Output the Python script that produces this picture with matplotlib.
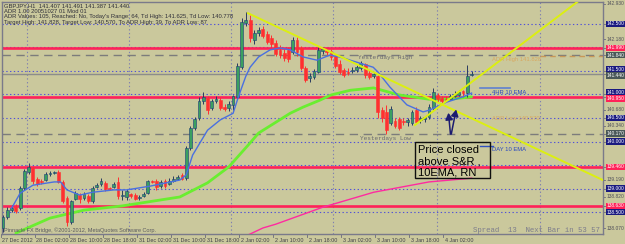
import matplotlib
matplotlib.use('Agg')
import matplotlib.pyplot as plt
from matplotlib.patches import Rectangle
import matplotlib.transforms as mtransforms

# ---------------- data ----------------
opens = [138.16,138.39,138.54,138.60,138.58,139.01,139.35,139.43,139.20,139.16,
         139.18,139.31,139.33,139.35,139.14,138.80,138.29,138.78,138.86,138.80,
         138.84,138.73,139.03,139.09,139.12,139.01,139.03,139.14,138.84,138.82,
         138.88,138.86,138.80,138.84,138.90,139.16,139.16,139.05,139.16,139.09,
         139.16,139.20,139.29,139.22,139.86,140.29,140.50,140.86,140.92,140.71,
         140.86,140.88,140.73,140.71,140.78,140.95,141.58,142.52,142.58,142.16,
         142.31,142.39,142.29,142.20,142.10,141.95,141.88,141.95,141.90,142.16,
         141.99,141.56,141.35,141.37,141.48,141.92,141.95,141.92,141.82,141.65,
         141.52,141.48,141.50,141.52,141.56,141.65,141.46,141.39,141.39,140.67,
         140.63,140.39,140.44,140.48,140.44,140.41,140.39,140.67,140.46,140.48,
         140.52,140.71,140.99,140.92,140.90,140.90,140.97,140.99,141.07,141.03,
         141.407]
highs = [138.44,138.60,138.65,138.67,139.05,139.41,139.54,139.48,139.24,139.20,
         139.35,139.37,139.37,139.39,139.18,138.84,138.75,138.95,138.90,138.92,
         138.88,139.05,139.12,139.22,139.16,139.03,139.14,139.24,138.97,138.99,
         138.90,138.90,138.86,138.92,139.18,139.18,139.20,139.18,139.20,139.22,
         139.26,139.29,139.33,139.90,140.33,140.52,140.95,141.05,140.97,140.90,
         140.97,140.95,140.80,140.86,140.98,141.67,142.63,142.75,142.69,142.37,
         142.44,142.46,142.35,142.26,142.16,142.05,141.97,142.01,142.22,142.22,
         142.03,141.61,141.46,141.54,142.01,142.01,141.99,141.97,141.84,141.73,
         141.56,141.56,141.58,141.63,141.71,141.67,141.52,141.48,141.41,140.73,
         140.78,140.75,140.50,140.52,140.50,140.50,140.67,140.73,140.54,140.54,
         140.80,141.14,141.03,140.97,140.97,141.00,141.07,141.10,141.10,141.63,
         141.491]
lows = [138.07,138.35,138.50,138.48,138.54,138.97,139.31,139.09,139.05,139.09,
        139.16,139.26,139.31,139.12,138.69,138.20,138.24,138.75,138.69,138.75,
        138.69,138.69,139.01,139.05,138.95,138.97,139.01,138.77,138.75,138.75,
        138.80,138.75,138.75,138.82,138.88,139.12,138.97,139.01,139.01,139.07,
        139.14,139.18,139.18,139.18,139.82,140.24,140.46,140.80,140.58,140.67,
        140.82,140.67,140.65,140.65,140.67,140.90,141.54,142.46,142.12,142.07,
        142.24,142.20,142.07,142.01,141.82,141.78,141.71,141.69,141.86,141.82,
        141.52,141.27,141.27,141.33,141.46,141.86,141.84,141.73,141.56,141.44,
        141.37,141.41,141.46,141.48,141.52,141.35,141.33,141.35,140.50,140.41,
        140.16,140.35,140.29,140.24,140.35,140.33,140.35,140.37,140.39,140.41,
        140.48,140.67,140.84,140.82,140.86,140.88,140.95,140.97,140.95,140.95,
        141.387]
closes = [138.39,138.54,138.58,138.52,139.01,139.37,139.46,139.16,139.09,139.14,
          139.31,139.33,139.35,139.14,138.73,138.29,138.73,138.90,138.78,138.88,
          138.73,139.01,139.07,139.16,138.99,138.99,139.09,138.84,138.86,138.95,
          138.84,138.78,138.82,138.88,139.16,139.14,139.03,139.14,139.05,139.16,
          139.20,139.24,139.20,139.86,140.29,140.48,140.86,140.95,140.67,140.86,
          140.90,140.71,140.70,140.80,140.97,141.60,142.54,142.58,142.20,142.31,
          142.37,142.24,142.12,142.07,141.86,141.84,141.78,141.75,142.16,141.90,
          141.56,141.31,141.39,141.50,141.95,141.97,141.90,141.80,141.61,141.48,
          141.41,141.46,141.52,141.58,141.67,141.41,141.37,141.44,140.63,140.50,
          140.24,140.69,140.33,140.29,140.41,140.46,140.63,140.41,140.50,140.52,
          140.73,141.05,140.90,140.86,140.88,140.97,141.01,141.05,141.03,141.40,
          141.440]

# H1 10 EMA (blue)
ema_blue_x = [2,4,7,12,13.5,15,18,21,26,29,34.5,41.5,43,44.5,48,51,54,55,56,57,58,60,
              62.7,65,67.4,70.4,73.7,76.8,79.8,81.5,86.9,88,90.8,94.8,98.6,100.2,104.2,108,110]
ema_blue_y = [138.58,138.90,139.07,139.14,139.14,138.97,138.86,138.92,138.97,138.97,139.05,
              139.18,139.29,139.71,140.24,140.46,140.60,140.88,141.14,141.39,141.58,141.80,
              141.95,141.99,141.95,141.80,141.73,141.84,141.78,141.73,141.58,141.48,141.16,
              140.78,140.63,140.67,140.84,140.95,141.03]
# 4HR 10 EMA (green)
ema_green_x = [3,11,19,28,41.5,48,53,58,60,67.4,70.4,74.4,77,81.5,87,93,100,105,110]
ema_green_y = [138.05,138.37,138.54,138.63,138.82,139.12,139.46,139.97,140.18,140.60,
               140.73,140.88,140.99,141.09,141.14,140.99,140.90,140.90,140.95]
# DAY 10 EMA (magenta)
ema_day_x = [57.5,61,64,75,87,100,110]
ema_day_y = [138.01,138.16,138.24,138.60,138.92,139.14,139.22]

# trend lines
trend1_x = [57.5, 140.8]
trend1_y = [142.73, 139.18]
trend2_x = [96.7, 135.4]
trend2_y = [140.35, 143.01]

sr_levels = [141.99, 140.95, 139.46, 138.63]
sr_labels = ['141.990', '140.950', '139.460', '138.630']
round_levels = [142.5, 142.0, 141.5, 141.0, 140.5, 140.0, 139.5, 139.0, 138.5]
round_labels = ['142.500', '141.500', '141.000', '140.500', '140.000', '139.000', '138.500']
round_label_levels = [142.5, 141.5, 141.0, 140.5, 140.0, 139.0, 138.5]
scale_levels = [142.93, 142.18, 140.68, 140.34, 139.19, 138.82, 138.15]
scale_labels = ['142.930', '142.180', '140.680', '140.340', '139.190', '138.820', '138.070']
yest_high = 141.84
yest_low = 140.17
cur_price = 141.44
adr_high = 141.828
day_grid = [5.6, 29.5, 53.4, 77.5, 101.8, 126.0]

tick_pos = [0, 8, 16, 24, 32, 40, 48, 56, 64, 72, 80, 88, 96, 104]
tick_labels = ['27 Dec 2012', '28 Dec 02:00', '28 Dec 10:00', '28 Dec 18:00', '31 Dec 02:00',
               '31 Dec 10:00', '31 Dec 18:00', '2 Jan 02:00', '2 Jan 10:00', '2 Jan 18:00',
               '3 Jan 02:00', '3 Jan 10:00', '3 Jan 18:00', '4 Jan 02:00']

info_lines = ['GBPJPY,H1  141.407 141.491 141.387 141.440',
              'ADR 1.00 20051027 01 Mod 01',
              "ADR Values: 105, Reached: No, Today's Range: 64, Td High: 141.625, Td Low: 140.778",
              'Target High: 141.828, Target Low: 140.570, To ADR High: 39, To ADR Low: 87']

# ---------------- figure ----------------
W, H = 625, 244
bg = '#cac89c'
fig = plt.figure(figsize=(W/100, H/100), dpi=100)
fig.patch.set_facecolor(bg)
ax = fig.add_axes([2/W, 1-234/H, 601/W, 232/H])
ax.set_facecolor(bg)
ax.set_xlim(-0.25, 140.85)
ax.set_ylim(138.032, 142.968)
ax.set_xticks([]); ax.set_yticks([])
for s in ax.spines.values():
    s.set_color('#7a7a8a'); s.set_linewidth(1.0)

# grid
for lv in round_levels:
    ax.axhline(lv, color='#5050d8', lw=0.8, ls=(0, (1.2, 2.2)), zorder=1)
for gx in day_grid:
    ax.axvline(gx, color='#8080b0', lw=0.8, ls=(0, (1.2, 2.2)), zorder=1)

# horizontal levels
ax.axhline(yest_high, color='#7c7c7c', lw=1.0, ls=(0, (6, 4)), zorder=2)
ax.axhline(yest_low, color='#7c7c7c', lw=1.0, ls=(0, (6, 4)), zorder=2)
ax.axhline(cur_price, color='#8c8c8c', lw=1.0, zorder=2)
ax.plot([126, 140.85], [adr_high, adr_high], color='#c89858', lw=1.0, ls=(0, (4, 3)), zorder=2)
for lv in sr_levels:
    ax.axhline(lv, color='#ff2258', lw=1.9, zorder=2)

# moving averages
ax.plot(ema_green_x, ema_green_y, color='#6aee30', lw=2.0, zorder=3, solid_capstyle='round')
ax.plot(ema_day_x, ema_day_y, color='#ff2aa0', lw=1.0, zorder=3)

# candles
bw = 0.66
for i, (o, h, l, c) in enumerate(zip(opens, highs, lows, closes)):
    up = c >= o
    if up:
        fc, ec, wc = '#3aa060', '#1e3c78', '#2a3a60'
    else:
        fc, ec, wc = '#ff3030', '#ff3030', '#ff3030'
    ax.plot([i, i], [l, h], color=wc, lw=0.7, zorder=4, solid_capstyle='butt')
    ax.add_patch(Rectangle((i - bw/2, min(o, c)), bw, max(abs(c - o), 0.012),
                           fc=fc, ec=ec, lw=0.4, zorder=5))

ax.plot(ema_blue_x, ema_blue_y, color='#4a70e0', lw=1.0, zorder=6)

# trend lines
ax.plot(trend1_x, trend1_y, color='#dcef10', lw=1.4, zorder=6)
ax.plot(trend2_x, trend2_y, color='#dcef10', lw=1.4, zorder=6)

# text objects
mono = 'Liberation Mono'
sans = 'Liberation Sans'
ax.text(83.3, 141.78, 'Yesterdays High', fontsize=4.4, family=mono, color='#6a6a70', va='center', ha='left', zorder=7)
ax.text(83.8, 140.07, 'Yesterdays Low', fontsize=4.4, family=mono, color='#6a6a70', va='center', ha='left', zorder=7)
ax.text(114.8, 141.755, 'ADR High 141.828', fontsize=4.2, family=sans, color='#d8a860', va='center', ha='left', zorder=7)
ax.text(114.8, 140.48, 'ADR Low 140.570', fontsize=4.2, family=sans, color='#d8a860', va='center', ha='left', zorder=7)
ax.plot([112, 119], [141.13, 141.13], color='#6080d0', lw=1.2, zorder=7)
ax.text(114.8, 141.04, '4HR 10 EMA', fontsize=4.2, family=sans, color='#2848c0', va='center', ha='left', zorder=7)
ax.plot([112, 115], [139.90, 139.90], color='#3050c0', lw=1.0, zorder=7)
ax.text(114.8, 139.84, 'DAY 10 EMA', fontsize=4.2, family=sans, color='#2848c0', va='center', ha='left', zorder=7)

# annotation box
ax.add_patch(Rectangle((96.8, 139.22), 17.5, 0.77, fc='none', ec='#101010', lw=1.0, zorder=7))
for yv, t in zip([139.82, 139.58, 139.35], ['Price closed', 'above S&R ,', '10EMA, RN']):
    ax.text(97.3, yv, t, fontsize=8, family=sans, color='#000000', va='center', ha='left', zorder=8)

# arrows
for tip in [(104.5, 140.67), (106.5, 140.74)]:
    ax.annotate('', xy=tip, xytext=(105.1, 140.10),
                arrowprops=dict(arrowstyle='-|>,head_length=0.4,head_width=0.22', color='#1c1c70', lw=1.1),
                zorder=8)

# info text
for k, t in enumerate(info_lines):
    fig.text(4/W, 1 - (5.5 + 5.6*k)/H, t, fontsize=4.2, family=sans, color='#30303a', va='center', ha='left')
fig.text(4/W, 1 - 230/H, 'Pinnacle FX Bridge, \u00a92001-2012, MetaQuotes Software Corp.', fontsize=4.0,
         family=sans, color='#5a5a60', va='center', ha='left')
fig.text(473/W, 1 - 230/H, 'Spread  13  Next Bar in 53 57', fontsize=5.3, family=mono,
         color='#7c7c8c', va='center', ha='left')

# x tick labels
trans_x = mtransforms.blended_transform_factory(ax.transData, fig.transFigure)
for p, t in zip(tick_pos, tick_labels):
    ax.plot([p - 0.6, p - 0.6], [1 - 234/H, 1 - 237/H], transform=trans_x, color='#6a6a7a', lw=0.6, clip_on=False)
    ax.text(p - 0.2 if p > 0 else -0.3, 1 - 240/H, t, transform=trans_x, fontsize=3.9, family=sans,
            color='#40404a', va='center', ha='left')

# right price labels
trans_y = mtransforms.blended_transform_factory(fig.transFigure, ax.transData)
nudge = {'141.500': 1.2, '141.440': -1.0, '141.000': 1.2, '140.950': -1.0}
def plabel(v, t, fc=None):
    tr = mtransforms.offset_copy(trans_y, fig=fig, y=nudge.get(t, 0.0), units='points')
    ax.plot([603/W, 605/W], [v, v], transform=trans_y, color='#6a6a7a', lw=0.6, clip_on=False)
    if fc is None:
        ax.text(606.5/W, v, t, transform=tr, fontsize=3.5, family=sans, color='#50505a',
                va='center', ha='left', clip_on=False)
    else:
        ax.text(606.5/W, v, t, transform=tr, fontsize=3.5, family=sans, color='white',
                va='center', ha='left', clip_on=False,
                bbox=dict(boxstyle='square,pad=0.18', fc=fc, ec='none'))
for v, t in zip(scale_levels, scale_labels):
    plabel(v, t)
for v, t in zip(round_label_levels, round_labels):
    plabel(v, t, '#1a1a80')
for v, t in zip(sr_levels, sr_labels):
    plabel(v, t, '#ff2258')
plabel(yest_high, '141.840', '#4a5858')
plabel(cur_price, '141.440', '#4a5858')
plabel(yest_low, '140.170', '#4a5858')

fig.savefig('out.png', dpi=100, facecolor=bg)
